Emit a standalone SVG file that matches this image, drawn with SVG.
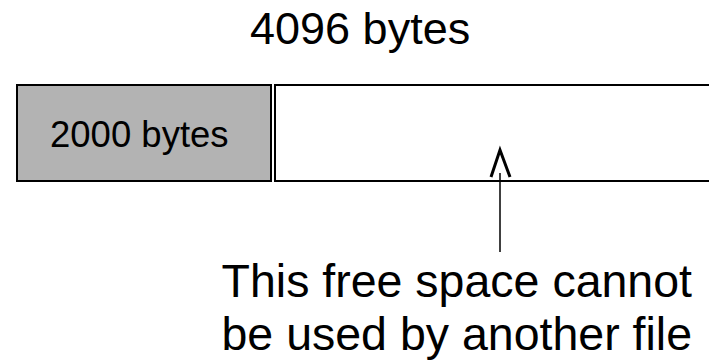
<svg xmlns="http://www.w3.org/2000/svg" width="709" height="364" viewBox="0 0 709 364">
<style>
text{font-family:"Liberation Sans",Arial,sans-serif;fill:#000}
.ln{stroke:#000;stroke-width:2;fill:none}
</style>
<rect width="709" height="364" fill="#fff"/>
<text x="250" y="44" font-size="45">4096 bytes</text>
<g id="used">
<rect x="17" y="85" width="254" height="96" fill="#b3b3b3" stroke="#000" stroke-width="2"/>
<text x="50" y="147" font-size="36.5">2000 bytes</text>
</g>
<g id="free">
<path class="ln" d="M275 85H712M275 181H712M275 84V182"/>
</g>
<g id="connectors">
<path d="M500 173V252" stroke="#000" stroke-width="1.5" fill="none"/>
<path d="M491 177L500 150L510 177" stroke="#000" stroke-width="3" fill="none"/>
</g>
<g id="note">
<text x="692" y="297" font-size="46.5" text-anchor="end">This free space cannot</text>
<text x="692" y="350" font-size="46.5" text-anchor="end">be used by another file</text>
</g>
</svg>
